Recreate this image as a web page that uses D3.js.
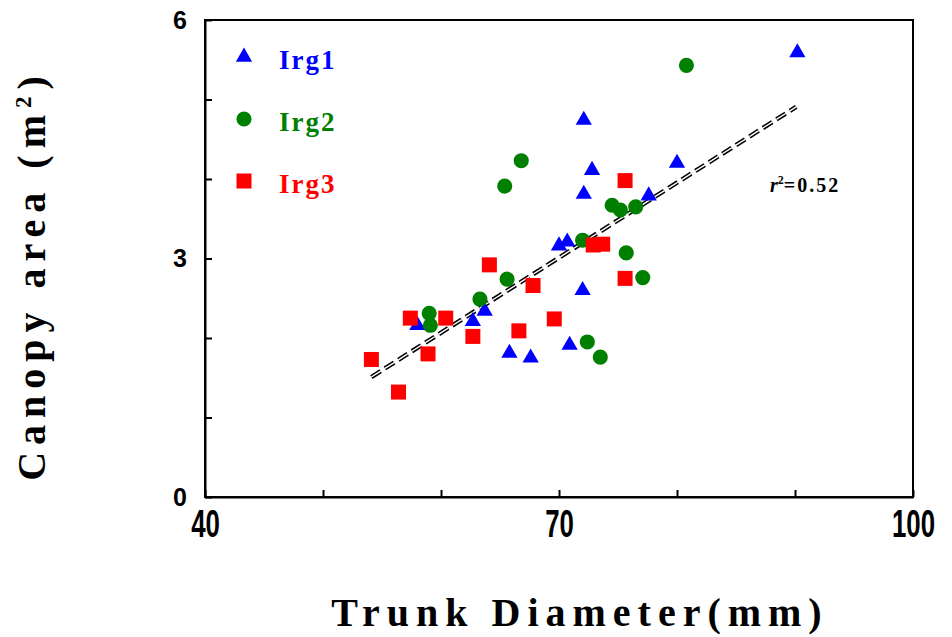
<!DOCTYPE html>
<html>
<head>
<meta charset="utf-8">
<script src="https://cdn.jsdelivr.net/npm/d3@7"></script>
<style>
  body { margin: 0; background: #fff; }
  svg { display: block; }
</style>
</head>
<body>
<div class="container"></div>
<script>
// trunk diameter (mm), canopy area (m2)
var irg1X = [90.2, 72.1, 72.8, 80.0, 72.1, 77.6, 70.0, 70.7, 72.0, 58.0, 62.7, 63.7, 65.8, 67.6, 70.9];
var irg1Y = [5.59, 4.74, 4.11, 4.20, 3.81, 3.79, 3.16, 3.21, 2.60, 2.16, 2.21, 2.34, 1.81, 1.75, 1.91];

var irg2X = [80.8, 66.8, 65.4, 74.5, 75.2, 76.5, 72.0, 65.6, 75.7, 77.1, 63.3, 59.0, 59.1, 72.4, 73.5];
var irg2Y = [5.43, 4.23, 3.91, 3.67, 3.61, 3.65, 3.23, 2.74, 3.07, 2.76, 2.49, 2.31, 2.16, 1.95, 1.76];

var irg3X = [75.6, 72.9, 73.7, 64.1, 67.8, 75.6, 57.4, 60.4, 62.7, 66.6, 69.6, 58.9, 54.1, 56.4];
var irg3Y = [3.98, 3.17, 3.18, 2.92, 2.66, 2.75, 2.25, 2.25, 2.02, 2.09, 2.24, 1.80, 1.73, 1.32];

var seriesNames = ["Irg1", "Irg2", "Irg3"];
var seriesColors = ["#0000ff", "#008000", "#ff0000"];

// linear fit drawn in the figure
var fitX = [54.1, 90.1];
var fitSlope = 0.0944;
var fitIntercept = -3.598;
var rSquared = "0.52";

var xTicks = [40, 50, 60, 70, 80, 90, 100];
var xLabels = [40, 70, 100];
var yTicks = [0, 1, 2, 3, 4, 5, 6];
var yLabels = [0, 3, 6];

var margin = {top: 20, right: 39, bottom: 140, left: 205};
var width = 952 - margin.left - margin.right;
var height = 637 - margin.top - margin.bottom;

var x = d3.scaleLinear().domain([40, 100]).range([0, width]);
var y = d3.scaleLinear().domain([0, 6]).range([height, 0]);

var svg = d3.select(".container")
    .append("svg")
    .attr("width", 952)
    .attr("height", 637);

var g = svg.append("g")
    .attr("transform", "translate(" + margin.left + "," + margin.top + ")");

// frame
g.append("rect")
    .attr("width", width)
    .attr("height", height)
    .attr("fill", "none")
    .attr("stroke", "#000")
    .attr("stroke-width", 2);

var xAxis = g.append("g")
    .attr("transform", "translate(0," + height + ")")
    .call(d3.axisBottom(x)
      .tickValues(xTicks)
      .tickSizeInner(-7)
      .tickSizeOuter(0)
      .tickPadding(13)
      .tickFormat(function(d) { return xLabels.indexOf(d) >= 0 ? d : ""; }));
xAxis.select(".domain").attr("stroke-width", 2);
xAxis.selectAll("line").attr("stroke-width", 2);
xAxis.selectAll("text")
    .attr("transform", "scale(0.68,1)")
    .attr("font-family", "'Liberation Sans', Arial, sans-serif")
    .attr("font-weight", "bold")
    .attr("font-size", 38)
    .attr("fill", "#000");

var yAxis = g.append("g")
    .call(d3.axisLeft(y)
      .tickValues(yTicks)
      .tickSizeInner(-7)
      .tickSizeOuter(0)
      .tickPadding(18)
      .tickFormat(function(d) { return yLabels.indexOf(d) >= 0 ? d : ""; }));
yAxis.select(".domain").attr("stroke-width", 2);
yAxis.selectAll("line").attr("stroke-width", 2);
yAxis.selectAll("text")
    .attr("font-family", "'Liberation Sans', Arial, sans-serif")
    .attr("font-weight", "bold")
    .attr("font-size", 25)
    .attr("fill", "#000");

// regression line, black dashes with a white core
var line = d3.line()
    .x(function(d) { return x(d); })
    .y(function(d) { return y(fitIntercept + fitSlope * d); });

g.append("path")
    .datum(fitX)
    .attr("d", line)
    .attr("fill", "none")
    .attr("stroke", "#000")
    .attr("stroke-width", 4.5)
    .attr("stroke-dasharray", "11,5");
g.append("path")
    .datum(fitX)
    .attr("d", line)
    .attr("fill", "none")
    .attr("stroke", "#fff")
    .attr("stroke-width", 1.4)
    .attr("stroke-dasharray", "11,5");

// points
var symbols = [
  d3.symbol().type(d3.symbolTriangle).size(115),
  d3.symbol().type(d3.symbolCircle).size(180),
  d3.symbol().type(d3.symbolSquare).size(225)
];

function plot(xs, ys, i) {
  g.selectAll(".s" + i)
    .data(d3.range(xs.length))
    .enter().append("path")
    .attr("class", "s" + i)
    .attr("d", symbols[i])
    .attr("transform", function(k) { return "translate(" + x(xs[k]) + "," + y(ys[k]) + ")"; })
    .attr("fill", seriesColors[i]);
}
plot(irg1X, irg1Y, 0);
plot(irg2X, irg2Y, 1);
plot(irg3X, irg3Y, 2);

// legend
var legend = svg.append("g");
seriesNames.forEach(function(name, i) {
  var ly = 57 + i * 62;
  legend.append("path")
    .attr("d", symbols[i])
    .attr("transform", "translate(244," + ly + ")")
    .attr("fill", seriesColors[i]);
  legend.append("text")
    .attr("x", 279)
    .attr("y", ly + 12)
    .attr("fill", seriesColors[i])
    .style("font-family", "'Liberation Serif', serif")
    .style("font-weight", "bold")
    .style("font-size", "27px")
    .style("letter-spacing", "2px")
    .text(name);
});

// r squared
var rt = svg.append("text")
    .attr("x", 770)
    .attr("y", 192)
    .style("font-family", "'Liberation Serif', serif")
    .style("font-weight", "bold")
    .style("font-size", "20px")
    .attr("fill", "#000");
rt.append("tspan").style("font-style", "italic").text("r");
rt.append("tspan").attr("dy", -8).style("font-size", "12px").text("2");
rt.append("tspan").attr("dy", 8).style("letter-spacing", "2px").text("=" + rSquared);

// axis titles
svg.append("text")
    .attr("x", 580)
    .attr("y", 626)
    .attr("text-anchor", "middle")
    .style("font-family", "'Liberation Serif', serif")
    .style("font-weight", "bold")
    .style("font-size", "40px")
    .style("letter-spacing", "7px")
    .attr("fill", "#000")
    .text("Trunk  Diameter(mm)");

var yt = svg.append("text")
    .attr("transform", "translate(45,275) rotate(-90)")
    .attr("text-anchor", "middle")
    .style("font-family", "'Liberation Serif', serif")
    .style("font-weight", "bold")
    .style("font-size", "40px")
    .style("letter-spacing", "7px")
    .attr("fill", "#000");
yt.append("tspan").text("Canopy  area  (m");
yt.append("tspan").attr("dy", -14).style("font-size", "23px").text("2");
yt.append("tspan").attr("dy", 14).text(")");
</script>
</body>
</html>
